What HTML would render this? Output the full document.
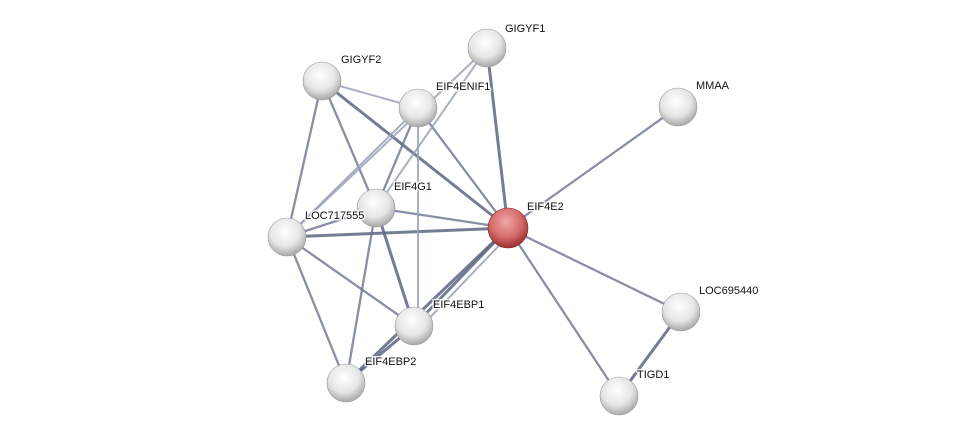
<!DOCTYPE html>
<html><head><style>
html,body{margin:0;padding:0;background:#fff;}
svg{display:block;}
text{font-family:"Liberation Sans",sans-serif;font-size:11px;fill:#111;paint-order:stroke;stroke:#fff;stroke-width:3px;stroke-opacity:0.8;}
</style></head><body>
<svg width="975" height="441" viewBox="0 0 975 441" xmlns="http://www.w3.org/2000/svg">
<defs>
<radialGradient id="g" cx="45%" cy="35%" r="65%">
<stop offset="0" stop-color="#ffffff"/><stop offset="0.6" stop-color="#e6e6e6"/><stop offset="1" stop-color="#a8a8a8"/>
</radialGradient>
<radialGradient id="r" cx="45%" cy="35%" r="65%">
<stop offset="0" stop-color="#f0a8a8"/><stop offset="0.6" stop-color="#d46a6a"/><stop offset="1" stop-color="#9a3030"/>
</radialGradient>
</defs>
<g stroke-linecap="round" fill="none">
<g stroke="#5c6680" stroke-width="3" stroke-opacity="0.85">
<line x1="322" y1="81" x2="508" y2="228"/>
<line x1="487" y1="48" x2="508" y2="228"/>
<line x1="376" y1="208" x2="414" y2="326"/>
<line x1="287" y1="237" x2="508" y2="228"/>
<line x1="508" y1="228" x2="414" y2="326"/>
<line x1="508" y1="228" x2="346" y2="383"/>
<line x1="414" y1="326" x2="346" y2="383"/>
<line x1="681" y1="312" x2="619" y2="396"/>
</g>
<g stroke="#6a7390" stroke-width="2.3" stroke-opacity="0.8">
<line x1="322" y1="81" x2="287" y2="237"/>
<line x1="322" y1="81" x2="376" y2="208"/>
<line x1="418" y1="108" x2="508" y2="228"/>
<line x1="418" y1="108" x2="376" y2="208"/>
<line x1="678" y1="107" x2="508" y2="228"/>
<line x1="376" y1="208" x2="508" y2="228"/>
<line x1="376" y1="208" x2="287" y2="237"/>
<line x1="376" y1="208" x2="346" y2="383"/>
<line x1="287" y1="237" x2="414" y2="326"/>
<line x1="287" y1="237" x2="346" y2="383"/>
<line x1="508" y1="228" x2="681" y2="312"/>
<line x1="508" y1="228" x2="619" y2="396"/>
</g>
<g stroke="#9aa2b8" stroke-width="2" stroke-opacity="0.85">
<line x1="322" y1="81" x2="418" y2="108"/>
<line x1="487" y1="48" x2="376" y2="208"/>
<line x1="487" y1="48" x2="287" y2="237"/>
<line x1="418" y1="108" x2="287" y2="237"/>
<line x1="418" y1="108" x2="418" y2="326"/>
<line x1="512" y1="232" x2="418" y2="330"/>
</g>
</g>
<g stroke="#999" stroke-width="0.6">
<circle cx="487" cy="48" r="19" fill="url(#g)"/>
<circle cx="322" cy="81" r="19" fill="url(#g)"/>
<circle cx="418" cy="108" r="19" fill="url(#g)"/>
<circle cx="678" cy="107" r="19" fill="url(#g)"/>
<circle cx="376" cy="208" r="19" fill="url(#g)"/>
<circle cx="287" cy="237" r="19" fill="url(#g)"/>
<circle cx="508" cy="228" r="20" fill="url(#r)" stroke="#8a2a2a"/>
<circle cx="681" cy="312" r="19" fill="url(#g)"/>
<circle cx="414" cy="326" r="19" fill="url(#g)"/>
<circle cx="346" cy="383" r="19" fill="url(#g)"/>
<circle cx="619" cy="396" r="19" fill="url(#g)"/>
</g>
<text x="505" y="32">GIGYF1</text>
<text x="341" y="63">GIGYF2</text>
<text x="436" y="90">EIF4ENIF1</text>
<text x="696" y="89">MMAA</text>
<text x="394" y="190">EIF4G1</text>
<text x="305" y="219">LOC717555</text>
<text x="527" y="210">EIF4E2</text>
<text x="699" y="294">LOC695440</text>
<text x="433" y="308">EIF4EBP1</text>
<text x="365" y="365">EIF4EBP2</text>
<text x="637" y="378">TIGD1</text>
</svg>
</body></html>
